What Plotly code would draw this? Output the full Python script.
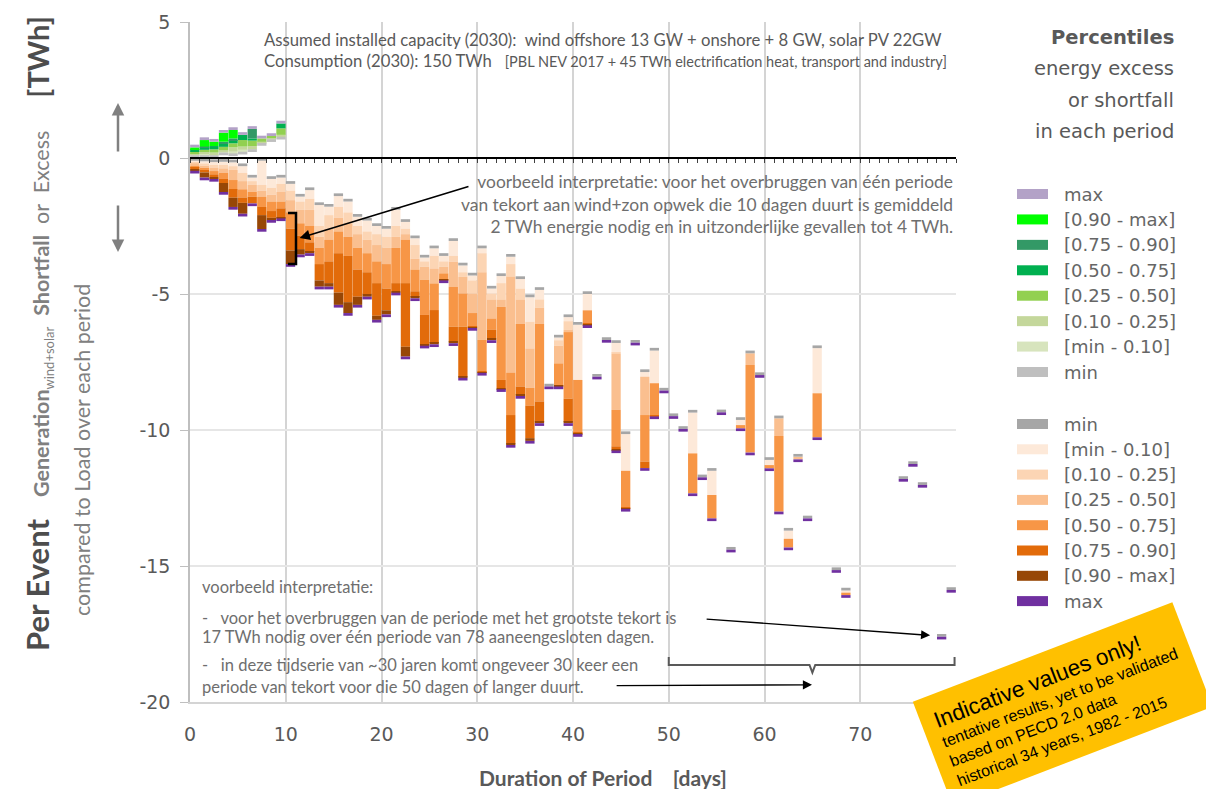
import plotly.graph_objects as go

# ---------------- data ----------------
# positive side: energy excess per period, percentiles [min, p10, p25, p50, p75, p90, max]
days_pos = [0, 1, 2, 3, 4, 5, 6, 7, 8, 9]
pos_min = [0.10, 0.10, 0.10, 0.20, 0.17, 0.23, 0.32, 0.55, 0.69, 0.78]
pos_p10 = [0.14, 0.15, 0.14, 0.25, 0.23, 0.30, 0.33, 0.58, 0.72, 0.80]
pos_p25 = [0.18, 0.22, 0.20, 0.29, 0.39, 0.42, 0.44, 0.60, 0.75, 0.85]
pos_p50 = [0.24, 0.30, 0.32, 0.41, 0.54, 0.66, 0.64, 0.72, 0.81, 1.09]
pos_p75 = [0.30, 0.40, 0.44, 0.55, 0.66, 0.85, 0.72, 0.72, 0.81, 1.27]
pos_p90 = [0.33, 0.42, 0.44, 0.60, 0.72, 0.85, 1.07, 0.72, 0.81, 1.27]
pos_max = [0.39, 0.66, 0.60, 0.93, 1.03, 0.85, 1.07, 0.72, 0.81, 1.27]

# negative side: energy shortfall per period
days_neg = [0, 1, 2, 3, 4, 5, 6, 7, 8, 9, 10, 11, 12, 13, 14, 15, 16, 17, 18, 19,
            20, 21, 22, 23, 24, 25, 26, 27, 28, 29, 30, 31, 32, 33, 34, 35, 36, 37, 38, 39,
            40, 41, 42, 43, 44, 45, 46, 47, 48, 49, 50, 51, 52, 53, 54, 55, 56, 57, 58, 59,
            60, 61, 62, 63, 64, 65, 67, 68, 74, 75, 76, 78, 79]
neg_min = [-0.10, -0.12, -0.15, -0.14, -0.16, -0.30, -0.72, -0.10, -0.77, -0.72,
           -0.95, -1.42, -1.18, -1.73, -1.79, -1.40, -1.60, -2.16, -2.30, -2.50,
           -2.60, -1.90, -2.35, -2.95, -3.66, -3.32, -3.60, -3.05, -3.95, -4.32,
           -3.32, -4.80, -4.34, -3.63, -4.45, -5.12, -4.85, -8.40, -6.60, -5.85,
           -6.13, -5.00, -8.04, -6.69, -6.80, -10.15, -6.79, -7.87, -7.08, -8.55,
           -9.49, -9.96, -9.36, -11.74, -11.50, -9.35, -14.40, -9.63, -7.18, -7.98,
           -11.10, -9.57, -13.70, -10.98, -13.25, -6.99, -15.15, -15.90, -11.80, -11.25,
           -12.02, -17.60, -15.88]
neg_p10 = [-0.15, -0.20, -0.25, -0.25, -0.30, -0.55, -0.85, -0.99, -1.10, -0.95,
           -1.20, -1.60, -1.50, -2.50, -2.10, -1.80, -2.00, -2.50, -2.70, -2.80,
           -2.90, -2.50, -2.60, -3.20, -3.80, -3.60, -3.80, -3.60, -4.20, -4.50,
           -3.50, -4.98, -4.60, -3.90, -4.80, -6.02, -5.20, -8.40, -6.70, -6.00,
           -8.16, -5.60, -8.04, -6.69, -7.15, -11.50, -6.79, -8.04, -8.28, -8.55,
           -9.49, -9.96, -10.86, -11.74, -12.39, -9.35, -14.40, -9.82, -7.18, -7.98,
           -11.29, -9.57, -14.00, -10.98, -13.25, -8.65, -15.15, -15.98, -11.80, -11.25,
           -12.02, -17.60, -15.88]
neg_p25 = [-0.20, -0.28, -0.35, -0.38, -0.44, -0.85, -0.99, -1.20, -1.35, -1.25,
           -1.55, -1.90, -1.90, -2.90, -2.60, -2.20, -2.40, -2.80, -3.00, -3.20,
           -3.30, -2.90, -2.80, -3.70, -4.00, -4.06, -4.00, -3.81, -4.36, -4.98,
           -4.20, -5.20, -5.20, -4.36, -5.20, -7.00, -5.50, -8.40, -6.90, -6.32,
           -8.16, -5.60, -8.04, -6.69, -7.20, -11.50, -6.79, -8.04, -8.28, -8.55,
           -9.49, -9.96, -10.86, -11.74, -12.39, -9.35, -14.40, -9.82, -7.18, -7.98,
           -11.29, -9.57, -14.00, -10.98, -13.25, -8.65, -15.15, -15.98, -11.80, -11.25,
           -12.02, -17.60, -15.88]
neg_p50 = [-0.28, -0.36, -0.48, -0.55, -0.81, -1.15, -1.24, -1.42, -1.60, -1.60,
           -2.00, -2.40, -2.50, -3.30, -3.00, -2.70, -2.90, -3.30, -3.50, -3.80,
           -3.90, -3.30, -3.00, -4.10, -4.48, -4.61, -4.24, -4.73, -4.98, -5.70,
           -6.69, -5.90, -5.47, -7.90, -6.10, -8.45, -6.10, -8.40, -7.55, -6.40,
           -8.16, -5.60, -8.04, -6.69, -9.26, -11.50, -6.79, -9.45, -8.28, -8.55,
           -9.49, -9.96, -10.86, -11.74, -12.39, -9.35, -14.40, -9.82, -7.61, -7.98,
           -11.29, -10.22, -14.00, -11.08, -13.25, -8.65, -15.15, -15.98, -11.80, -11.25,
           -12.02, -17.60, -15.88]
neg_p75 = [-0.36, -0.44, -0.60, -0.77, -1.14, -1.45, -1.42, -1.80, -1.95, -1.85,
           -2.60, -2.85, -3.10, -3.90, -3.80, -3.50, -3.60, -4.10, -4.20, -4.60,
           -4.80, -4.60, -4.60, -4.90, -5.77, -5.59, -4.45, -6.20, -6.20, -6.20,
           -7.85, -6.32, -8.16, -9.45, -8.40, -9.10, -8.95, -8.40, -8.35, -8.85,
           -10.10, -6.10, -8.04, -6.69, -10.60, -12.85, -6.79, -11.16, -9.48, -8.55,
           -9.49, -9.96, -12.33, -11.74, -13.25, -9.35, -14.40, -9.94, -10.83, -7.98,
           -11.41, -13.00, -14.32, -11.08, -13.25, -10.27, -15.15, -16.07, -11.80, -11.25,
           -12.02, -17.60, -15.88]
neg_p90 = [-0.42, -0.53, -0.70, -0.92, -1.46, -1.65, -1.67, -2.10, -2.20, -2.20,
           -3.40, -3.35, -3.45, -4.50, -4.60, -4.95, -5.30, -5.10, -5.00, -5.80,
           -5.60, -4.90, -6.94, -5.10, -6.85, -6.80, -4.48, -6.75, -8.04, -6.22,
           -7.87, -6.63, -8.47, -10.50, -8.70, -10.30, -9.70, -8.40, -8.37, -9.70,
           -10.12, -6.12, -8.04, -6.69, -10.70, -12.87, -6.79, -11.40, -9.50, -8.55,
           -9.49, -9.96, -12.33, -11.74, -13.25, -9.35, -14.40, -9.94, -10.83, -7.98,
           -11.41, -13.00, -14.32, -11.08, -13.25, -10.27, -15.15, -16.07, -11.80, -11.25,
           -12.02, -17.60, -15.88]
neg_max = [-0.47, -0.72, -0.77, -1.25, -1.80, -2.05, -1.67, -2.61, -2.28, -2.22,
           -3.90, -3.55, -3.50, -4.73, -4.73, -5.40, -5.70, -5.40, -5.10, -5.95,
           -5.75, -4.95, -7.30, -5.16, -6.90, -6.85, -4.50, -6.81, -8.08, -6.25,
           -7.90, -6.70, -8.50, -10.55, -8.75, -10.40, -9.75, -8.40, -8.40, -9.75,
           -10.15, -6.15, -8.04, -6.69, -10.75, -12.90, -6.79, -11.40, -9.50, -8.55,
           -9.49, -9.96, -12.33, -11.74, -13.25, -9.35, -14.40, -9.94, -10.83, -7.98,
           -11.41, -13.00, -14.32, -11.08, -13.25, -10.27, -15.15, -16.07, -11.80, -11.25,
           -12.02, -17.60, -15.88]

pos_labels = ["max", "[0.90 - max]", "[0.75 - 0.90]", "[0.50 - 0.75]", "[0.25 - 0.50]",
              "[0.10 - 0.25]", "[min - 0.10]", "min"]
neg_labels = ["min", "[min - 0.10]", "[0.10 - 0.25]", "[0.25 - 0.50]", "[0.50 - 0.75]",
              "[0.75 - 0.90]", "[0.90 - max]", "max"]
y_tick_vals = [5, 0, -5, -10, -15, -20]
y_tick_text = ["5", "0", "-5", "-10", "-15", "-20"]
x_tick_vals = [0, 10, 20, 30, 40, 50, 60, 70, 80]

# ---------------- styles ----------------
POS_SEG = ["#D7E4BD", "#C4D79B", "#92D050", "#00B050", "#339966", "#00FF00"]
POS_MIN_C, POS_MAX_C = "#BFBFBF", "#B3A2C7"
NEG_SEG = ["#FDE9D9", "#FCD5B4", "#FABF8F", "#F79646", "#E26B0A", "#974706"]
NEG_MIN_C, NEG_MAX_C = "#A6A6A6", "#7030A0"
CAP = 0.1
BW = 0.97
GREY = "#595959"
TXT = "#6E6E6E"

# the page body has an 8px margin: figure is placed at (8, 8) in the window
PAGE_OFF = 8
W, H = 1214 - PAGE_OFF, 789 - PAGE_OFF
X0, X1, Y0, Y1 = 190, 956, 22, 702          # target plot area in window pixels
L, T = X0 - PAGE_OFF, Y0 - PAGE_OFF
R, B = W - (X1 - PAGE_OFF), H - (Y1 - PAGE_OFF)
PW, PH = X1 - X0, Y1 - Y0


def px(xp):
    return (xp - X0) / PW


def py(yp):
    return (Y1 - yp) / PH


fig = go.Figure()


def add_bar(xs, base, length, color):
    fig.add_trace(go.Bar(x=xs, y=length, base=base, width=BW,
                         marker=dict(color=color, line=dict(width=0)),
                         showlegend=False, hoverinfo="skip"))


xn = [d + 0.5 for d in days_neg]
xp_ = [d + 0.5 for d in days_pos]
neg_q = [neg_min, neg_p10, neg_p25, neg_p50, neg_p75, neg_p90, neg_max]
pos_q = [pos_min, pos_p10, pos_p25, pos_p50, pos_p75, pos_p90, pos_max]

for i in range(6):
    add_bar(xn, neg_q[i], [b - a for a, b in zip(neg_q[i], neg_q[i + 1])], NEG_SEG[i])
    add_bar(xp_, pos_q[i], [b - a for a, b in zip(pos_q[i], pos_q[i + 1])], POS_SEG[i])
add_bar(xn, neg_min, [CAP] * len(xn), NEG_MIN_C)
add_bar(xn, neg_max, [-CAP] * len(xn), NEG_MAX_C)
add_bar(xp_, pos_min, [-CAP] * len(xp_), POS_MIN_C)
add_bar(xp_, pos_max, [CAP] * len(xp_), POS_MAX_C)

# invisible trace for the zero-crossing category axis
fig.add_trace(go.Scatter(x=[0, 80], y=[0, 0], xaxis="x2", mode="markers",
                         marker=dict(opacity=0), showlegend=False, hoverinfo="skip"))

fig.update_layout(
    width=W, height=H, margin=dict(l=L, r=R, t=T, b=B, autoexpand=False),
    plot_bgcolor="white", paper_bgcolor="white", barmode="overlay", showlegend=False,
    font=dict(family="Lato", color=GREY),
    xaxis=dict(range=[0, 80], tickvals=x_tick_vals, showgrid=True, gridcolor="#D4D4D4",
               gridwidth=1.5, showline=True, linecolor="#D4D4D4", linewidth=1.5,
               ticks="", zeroline=False, ticklabelstandoff=14, automargin=False,
               tickfont=dict(family="DejaVu Sans", size=19, color=GREY)),
    xaxis2=dict(range=[0, 80], overlaying="x", anchor="free", position=0.8, side="bottom",
                showline=True, linecolor="black", linewidth=2, ticks="outside", ticklen=4,
                tickcolor="#404040", tickwidth=1, dtick=1, tick0=0, showticklabels=False,
                showgrid=False, zeroline=False, automargin=False),
    yaxis=dict(range=[-20, 5], tickvals=y_tick_vals, ticktext=y_tick_text, showgrid=True,
               gridcolor="#E6E6E6", gridwidth=1.5, showline=True, linecolor="#BFBFBF",
               linewidth=1.5, ticks="outside", ticklen=8, tickcolor="#BFBFBF",
               zeroline=False, ticklabelstandoff=6, automargin=False,
               tickfont=dict(family="DejaVu Sans", size=19, color=GREY)),
)

ann = []
shapes = []

# bracket around the 10-day example bar
shapes.append(dict(type="path", xref="x", yref="y",
                   path="M 10.23,-2.02 L 11.07,-2.02 L 11.07,-3.9 L 10.23,-3.9",
                   line=dict(color="black", width=2.5)))
# curly brace under the 50+ day periods
shapes.append(dict(type="path", xref="x", yref="y",
                   path="M 50,-18.35 L 50,-18.64 L 64.7,-18.64 L 65,-18.92 L 65.3,-18.64 L 79.85,-18.64 L 79.85,-18.35",
                   line=dict(color=GREY, width=2)))

# arrows
ann.append(dict(x=11.45, y=-2.94, xref="x", yref="y", ax=29.24, ay=-1.03, axref="x", ayref="y",
                text="", showarrow=True, arrowhead=2, arrowsize=1.3, arrowwidth=1.6, arrowcolor="black"))
ann.append(dict(x=77.3, y=-17.55, xref="x", yref="y", ax=53.8, ay=-16.95, axref="x", ayref="y",
                text="", showarrow=True, arrowhead=2, arrowsize=1.3, arrowwidth=1.4, arrowcolor="black"))
ann.append(dict(x=64.96, y=-19.37, xref="x", yref="y", ax=44.4, ay=-19.4, axref="x", ayref="y",
                text="", showarrow=True, arrowhead=2, arrowsize=1.3, arrowwidth=1.4, arrowcolor="black"))
ann.append(dict(x=px(118), y=py(103), xref="paper", yref="paper", ax=0, ay=50,
                text="", showarrow=True, arrowhead=2, arrowsize=1.0, arrowwidth=2.5, arrowcolor="#808080"))
ann.append(dict(x=px(118), y=py(252), xref="paper", yref="paper", ax=0, ay=-48,
                text="", showarrow=True, arrowhead=2, arrowsize=1.0, arrowwidth=2.5, arrowcolor="#808080"))

# top info text
ann.append(dict(x=px(262), y=py(40), xref="paper", yref="paper", xanchor="left", yanchor="middle",
                showarrow=False, font=dict(size=16.7, color=GREY),
                text="Assumed installed capacity (2030):  wind offshore 13 GW + onshore + 8 GW, solar PV 22GW"))
ann.append(dict(x=px(262), y=py(61), xref="paper", yref="paper", xanchor="left", yanchor="middle",
                showarrow=False, font=dict(size=16.7, color=GREY),
                text="Consumption (2030): 150 TWh \u00a0\u00a0<span style='font-size:14.5px'>[PBL NEV 2017 + 45 TWh electrification heat, transport and industry]</span>"))

# example interpretation (10-day)
ann.append(dict(x=px(955), y=py(204), xref="paper", yref="paper", xanchor="right", yanchor="middle",
                align="right", showarrow=False, font=dict(size=17.4, color=TXT),
                text="voorbeeld interpretatie: voor het overbruggen van één periode<br>"
                     "van tekort aan wind+zon opwek die 10 dagen duurt is gemiddeld<br>"
                     "2 TWh energie nodig en in uitzonderlijke gevallen tot 4 TWh."))

# bottom-left interpretation
bl_lines = [(587, "voorbeeld interpretatie:"),
            (618, "-\u00a0\u00a0\u00a0voor het overbruggen van de periode met het grootste tekort is"),
            (637, "17 TWh nodig over één periode van 78 aaneengesloten dagen."),
            (665, "-\u00a0\u00a0\u00a0in deze tijdserie van ~30 jaren komt ongeveer 30 keer een"),
            (687, "periode van tekort voor die 50 dagen of langer duurt.")]
for yy, t in bl_lines:
    ann.append(dict(x=px(200), y=py(yy), xref="paper", yref="paper", xanchor="left", yanchor="middle",
                    showarrow=False, font=dict(size=16.5, color=TXT), text=t))

# axis titles
ann.append(dict(x=px(603), y=py(777), xref="paper", yref="paper", xanchor="center", yanchor="middle",
                showarrow=False, font=dict(size=21, color=GREY),
                text="<b>Duration of Period \u00a0\u00a0\u00a0[days]</b>"))
ann.append(dict(x=px(37), y=py(334), xref="paper", yref="paper", xanchor="center", yanchor="middle",
                textangle=-90, showarrow=False, font=dict(size=21.5, color="#4D4D4D"),
                text="<span style='font-size:31px'><b>Per Event</b></span>\u00a0\u00a0\u00a0 "
                     "<span style='color:#808080'><b>Generation</b>"
                     "<sub><span style='font-size:13px'>wind+solar</span></sub>\u00a0 "
                     "<b>Shortfall</b>\u00a0 or\u00a0 Excess</span>\u00a0\u00a0\u00a0\u00a0\u00a0 "
                     "<span style='font-size:29px'><b>[TWh]</b></span>"))
ann.append(dict(x=px(82), y=py(450), xref="paper", yref="paper", xanchor="center", yanchor="middle",
                textangle=-90, showarrow=False, font=dict(size=21.5, color="#808080"),
                text="compared to Load over each period"))

# legend (drawn manually)
for i, t in enumerate(["<b>Percentiles</b>", "energy excess", "or shortfall", "in each period"]):
    ann.append(dict(x=px(1176), y=py([37, 69, 100, 132][i]), xref="paper", yref="paper",
                    xanchor="right", yanchor="middle", showarrow=False,
                    font=dict(family="DejaVu Sans", size=19.5, color=GREY), text=t))
pos_leg_cols = [POS_MAX_C] + POS_SEG[::-1] + [POS_MIN_C]
neg_leg_cols = [NEG_MIN_C] + NEG_SEG + [NEG_MAX_C]
rows = [(194 + 25.43 * i, pos_labels[i], pos_leg_cols[i]) for i in range(8)] + \
       [(424 + 25.3 * i, neg_labels[i], neg_leg_cols[i]) for i in range(8)]
for cy, lab, col in rows:
    shapes.append(dict(type="rect", xref="paper", yref="paper", x0=px(1017), x1=px(1048),
                       y0=py(cy + 5), y1=py(cy - 5), fillcolor=col, line=dict(width=0)))
    ann.append(dict(x=px(1062), y=py(cy), xref="paper", yref="paper", xanchor="left",
                    yanchor="middle", showarrow=False,
                    font=dict(family="DejaVu Sans", size=18, color="#666666"), text=lab))

# yellow disclaimer tag
ann.append(dict(x=px(1062), y=py(704), xref="paper", yref="paper", xanchor="center", yanchor="middle",
                textangle=-21, showarrow=False, bgcolor="#FFC000", borderpad=13, align="left",
                font=dict(family="Liberation Sans", size=16, color="black"),
                text="<span style='font-size:22.5px'>Indicative values only!</span><br>"
                     "tentative results, yet to be validated<br>based on PECD 2.0 data<br>"
                     "historical 34 years, 1982 - 2015"))

fig.update_layout(annotations=ann, shapes=shapes)
fig.write_html("out.html")
